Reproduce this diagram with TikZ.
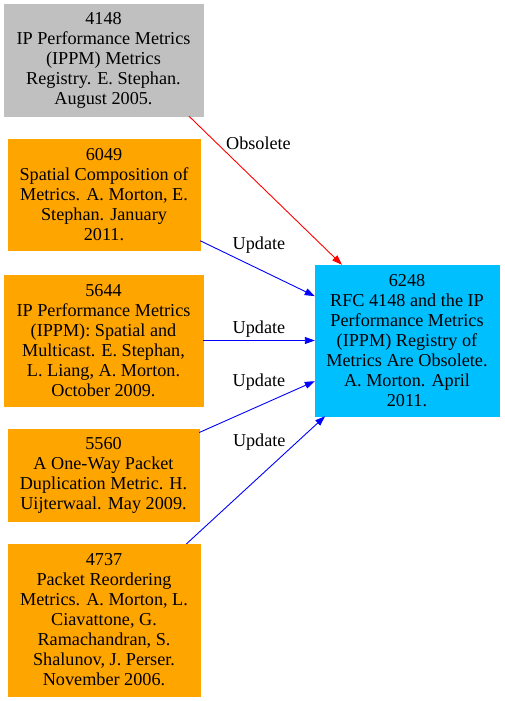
\documentclass[tikz,border=0pt]{standalone}
\usepackage{fontspec}
\setmainfont{Liberation Serif}
\usetikzlibrary{arrows.meta, positioning}
\definecolor{ObsGray}{RGB}{192,192,192}
\definecolor{UpdOrange}{RGB}{255,165,0}
\definecolor{NewBlue}{RGB}{0,191,255}
\definecolor{ObsRed}{RGB}{255,0,0}
\definecolor{UpdBlue}{RGB}{0,0,255}

\begin{document}
\begin{tikzpicture}[x=1pt,y=-1pt,
        rfcbox/.style={fill=#1,draw=#1,inner sep=0pt,align=center,
                       font=\fontsize{18.2}{20}\selectfont},
        lbl/.style={font=\fontsize{18.2}{20}\selectfont,inner sep=0pt,text=black},
        arr/.style={-{Triangle[length=10pt,width=7pt]},line width=0.9pt,#1}
      ]
        \useasboundingbox (0,0) rectangle (504,701);
        \node[rfcbox=ObsGray,minimum width=199pt,minimum height=112pt]    (rfc4148) at (103.5,60)  {4148\\IP Performance Metrics\\(IPPM) Metrics\\Registry. E. Stephan.\\August 2005.};
        \node[rfcbox=UpdOrange,minimum width=192pt,minimum height=111pt]  (rfc6049) at (104,194.5) {6049\\Spatial Composition of\\Metrics. A. Morton, E.\\Stephan. January\\2011.};
        \node[rfcbox=UpdOrange,minimum width=199pt,minimum height=131pt]  (rfc5644) at (103.5,340.5) {5644\\IP Performance Metrics\\(IPPM): Spatial and\\Multicast. E. Stephan,\\L. Liang, A. Morton.\\October 2009.};
        \node[rfcbox=UpdOrange,minimum width=191pt,minimum height=92pt]   (rfc5560) at (103.5,475) {5560\\A One-Way Packet\\Duplication Metric. H.\\Uijterwaal. May 2009.};
        \node[rfcbox=UpdOrange,minimum width=192pt,minimum height=152pt]  (rfc4737) at (104,620)   {4737\\Packet Reordering\\Metrics. A. Morton, L.\\Ciavattone, G.\\Ramachandran, S.\\Shalunov, J. Perser.\\November 2006.};
        \node[rfcbox=NewBlue,minimum width=184pt,minimum height=151pt]    (rfc6248) at (407,340.5) {6248\\RFC 4148 and the IP\\Performance Metrics\\(IPPM) Registry of\\Metrics Are Obsolete.\\A. Morton. April\\2011.};
        % relations
        \draw[arr=ObsRed] ([xshift=85.5pt]rfc4148.south) -- node[lbl,pos=0.454,yshift=40pt]{Obsolete} ([xshift=-65pt]rfc6248.north);
        \draw[arr=UpdBlue] (rfc6049) -- node[lbl,pos=0.513,yshift=24pt]{Update} (rfc6248);
        \draw[arr=UpdBlue] (rfc5644) -- node[lbl,pos=0.5,yshift=11pt]{Update} (rfc6248);
        \draw[arr=UpdBlue] (rfc5560) -- node[lbl,pos=0.517,yshift=24pt]{Update} (rfc6248);
        \draw[arr=UpdBlue] (rfc4737) -- node[lbl,pos=0.525,yshift=35pt]{Update} (rfc6248);
      \end{tikzpicture}
\end{document}
